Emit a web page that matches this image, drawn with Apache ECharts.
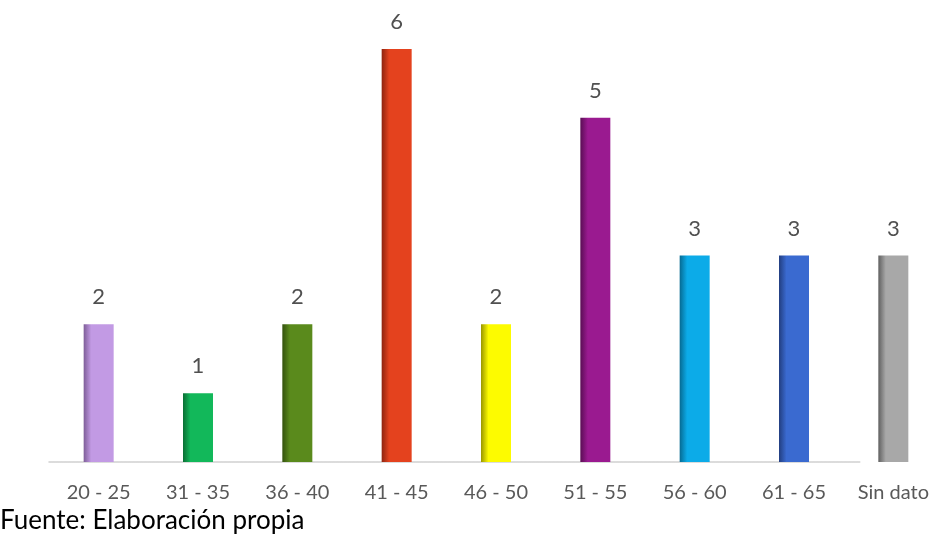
<!DOCTYPE html>
<html>
<head>
<meta charset="utf-8">
<script src="https://cdn.jsdelivr.net/npm/echarts@6/dist/echarts.min.js"></script>
<style>
html,body{margin:0;padding:0;background:#fff;}
#chart{width:943px;height:542px;}
</style>
</head>
<body>
<div id="chart"></div>
<script>
const categories = ['20 - 25','31 - 35','36 - 40','41 - 45','46 - 50','51 - 55','56 - 60','61 - 65','Sin dato'];
const values = [2, 1, 2, 6, 2, 5, 3, 3, 3];
const barColors = ['#c29ae4','#12b85a','#5a8a1c','#e4421e','#fdfb00','#9a1a90','#0cabe8','#3a6ad0','#a8a8a8'];
const darkColors = ['#7e5e98','#0a6e34','#34520e','#8e2410','#9a9600','#5a0e54','#066a92','#223e80','#606060'];
const sourceNote = 'Fuente: Elaboración propia';

const chart = echarts.init(document.getElementById('chart'), null, {renderer:'canvas'});
function grad(i){
  return new echarts.graphic.LinearGradient(0,0,1,0,[
    {offset:0, color: darkColors[i]},
    {offset:0.25, color: barColors[i]},
    {offset:0.8, color: barColors[i]},
    {offset:1, color: barColors[i]}
  ]);
}
chart.setOption({
  animation:false,
  backgroundColor:'#ffffff',
  title:{
    text: sourceNote, left: 0, top: 508, padding:0,
    textStyle:{fontFamily:'Lato, "Open Sans", sans-serif', fontSize:26, fontWeight:'normal', color:'#000'}
  },
  grid:{left:49, width:900, top:49, bottom:80},
  xAxis:{
    type:'category', data: categories,
    axisTick:{show:false},
    axisLine:{lineStyle:{width:1.5, color: new echarts.graphic.LinearGradient(0,0,1,0,[
      {offset:0,color:'#d0d0d0'},{offset:0.905,color:'#d0d0d0'},{offset:0.906,color:'rgba(255,255,255,0)'},{offset:1,color:'rgba(255,255,255,0)'}])}},
    axisLabel:{margin:21, fontSize:20, color:'#595959', fontFamily:'Lato, "Open Sans", sans-serif', interval:0}
  },
  yAxis:{type:'value', min:0, max:6, show:false, splitLine:{show:false}},
  series:[{
    type:'bar',
    barWidth:30,
    data: values.map((v,i)=>({value:v, itemStyle:{color: grad(i)}})),
    label:{show:true, position:'top', distance:16, fontSize:22, color:'#505050', fontFamily:'Lato, "Open Sans", sans-serif'}
  }]
});
</script>
</body>
</html>
